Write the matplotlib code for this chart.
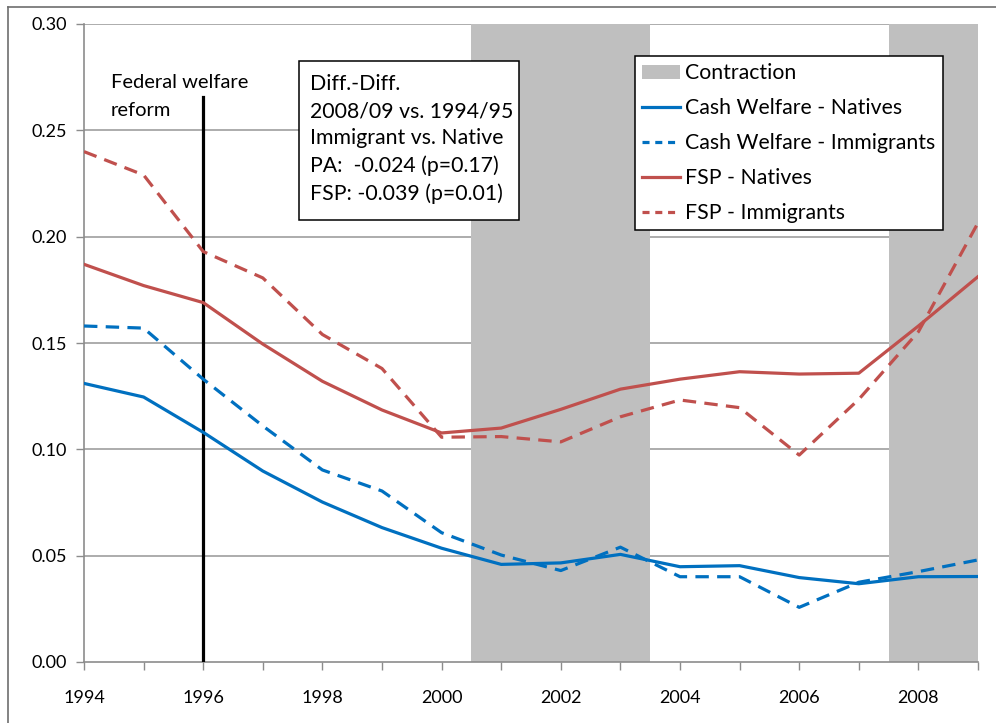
import matplotlib
matplotlib.use("Agg")
import matplotlib.pyplot as plt
from matplotlib.patches import Patch, Rectangle
from matplotlib.lines import Line2D
import numpy as np

plt.rcParams['font.family'] = ['Lato', 'DejaVu Sans']

years = np.arange(1994, 2010)
cash_natives = [0.131, 0.1246, 0.108, 0.0898, 0.0752, 0.0632, 0.0535, 0.0459,
                0.0466, 0.0506, 0.0448, 0.0453, 0.0397, 0.0368, 0.0401, 0.0402]
cash_immig = [0.158, 0.157, 0.133, 0.111, 0.0903, 0.0804, 0.0608, 0.0503,
              0.043, 0.054, 0.0401, 0.0401, 0.0257, 0.0375, 0.0425, 0.048]
fsp_natives = [0.187, 0.177, 0.169, 0.1495, 0.132, 0.1185, 0.1077, 0.110,
               0.1188, 0.1283, 0.133, 0.1365, 0.1354, 0.1358, 0.158, 0.1812]
fsp_immig = [0.240, 0.229, 0.193, 0.1806, 0.154, 0.138, 0.1057, 0.106,
             0.1035, 0.1153, 0.1232, 0.1196, 0.0973, 0.1235, 0.1553, 0.2065]
contractions = [(2000.5, 2003.5), (2007.5, 2009)]
reform_year = 1996

blue = '#0070C0'
red = '#C0504D'
shade = '#BFBFBF'

fig = plt.figure(figsize=(9.96, 7.23), dpi=100)
ax = fig.add_axes([84/996, 1-662/723, (978-84)/996, (662-24)/723])

# outer chart frame
fig.add_artist(Line2D([8/996, 8/996], [0, 1-7/723], color='#6e6e6e', lw=1.2, transform=fig.transFigure))
fig.add_artist(Line2D([8/996, 1], [1-7/723, 1-7/723], color='#6e6e6e', lw=1.2, transform=fig.transFigure))

for y in np.arange(0.05, 0.301, 0.05):
    ax.axhline(y, color='#A6A6A6', lw=1.3, zorder=0)
for a, b in contractions:
    ax.axvspan(a, b, color=shade, lw=0, zorder=1)

ax.plot([reform_year, reform_year], [0, 0.2655], color='black', lw=2.3, zorder=3)

lw = 2.3
ax.plot(years, cash_natives, color=blue, lw=lw, zorder=4)
ax.plot(years, cash_immig, color=blue, lw=lw, dashes=(4.2, 2.6), zorder=4)
ax.plot(years, fsp_natives, color=red, lw=lw, zorder=4)
ax.plot(years, fsp_immig, color=red, lw=lw, dashes=(4.2, 2.6), zorder=4)

ax.set_xlim(1994, 2009)
ax.set_ylim(0, 0.30)
ax.set_yticks(np.arange(0, 0.301, 0.05))
ax.set_yticklabels(['%.2f' % v for v in np.arange(0, 0.301, 0.05)], fontsize=13)
ax.set_xticks(years)
ax.set_xticklabels([str(y) if y % 2 == 0 else '' for y in years], fontsize=13)
ax.tick_params(axis='x', length=6, width=1, color='#8c8c8c', pad=14)
ax.tick_params(axis='y', length=6, width=1, color='#8c8c8c', pad=6)
for s in ['top', 'right']:
    ax.spines[s].set_visible(False)
for s in ['left', 'bottom']:
    ax.spines[s].set_color('#8c8c8c')
    ax.spines[s].set_linewidth(1.2)

ax.text(1994.45, 0.2765, 'Federal welfare\nreform', fontsize=14.5, va='top', ha='left',
        linespacing=1.8, zorder=5)

# diff-in-diff box
ax.add_patch(Rectangle((1997.61, 0.2078), 3.69, 0.0748, fc='white', ec='black', lw=1.1, zorder=6))
ax.text(1997.79, 0.2765,
        'Diff.-Diff.\n2008/09 vs. 1994/95\nImmigrant vs. Native\nPA:  -0.024 (p=0.17)\nFSP: -0.039 (p=0.01)',
        fontsize=15.3, va='top', ha='left', linespacing=1.45, zorder=7)

handles = [Patch(facecolor=shade, edgecolor='none'),
           Line2D([], [], color=blue, lw=lw),
           Line2D([], [], color=blue, lw=lw, dashes=(2.2, 1.8)),
           Line2D([], [], color=red, lw=lw),
           Line2D([], [], color=red, lw=lw, dashes=(2.2, 1.8))]
labels = ['Contraction', 'Cash Welfare - Natives', 'Cash Welfare - Immigrants',
          'FSP - Natives', 'FSP - Immigrants']
leg = ax.legend(handles, labels, loc='upper left', bbox_to_anchor=((635-84)/894, 1-(56-24)/638),
                fontsize=15.3, frameon=True, fancybox=False, edgecolor='black', framealpha=1,
                handlelength=1.75, handletextpad=0.25, labelspacing=0.7, borderpad=0.35,
                borderaxespad=0)
leg.get_frame().set_linewidth(1.1)
leg.set_zorder(8)

fig.savefig('out.png', dpi=100)
